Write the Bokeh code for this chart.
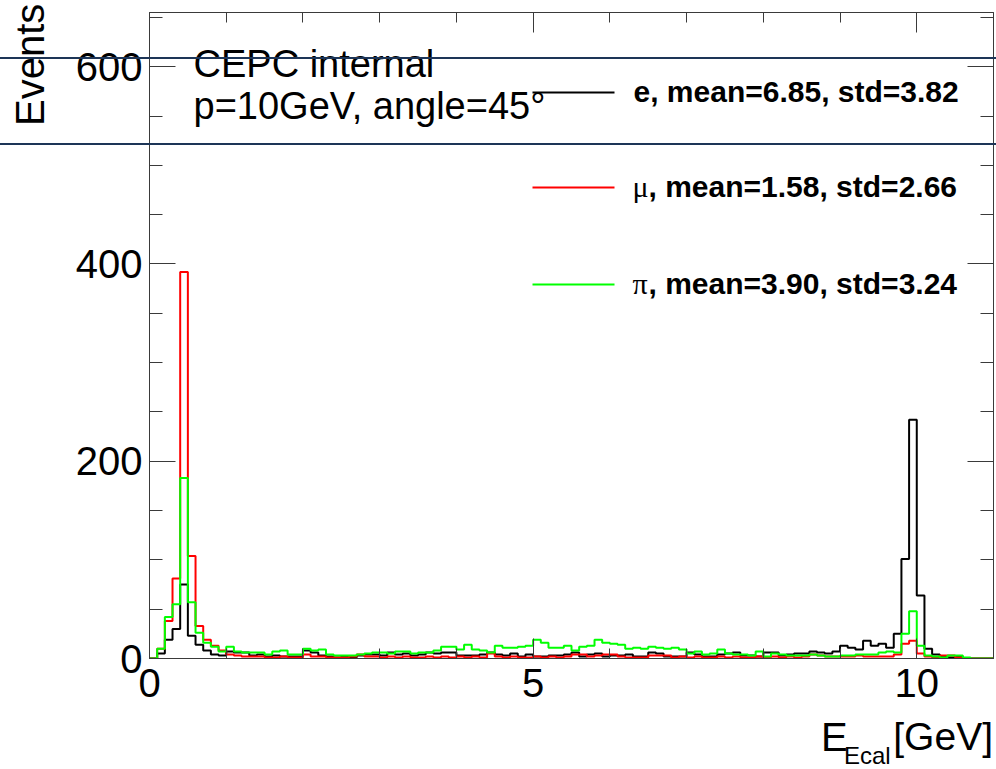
import numpy as np
from bokeh.plotting import figure
from bokeh.models import Range1d, FixedTicker, LinearAxis, Label, Arrow, Div, GridBox
from bokeh.embed import file_html
from bokeh.resources import INLINE

# ---------------- data ----------------
x_min, x_max, bin_width = 0.0, 11.0, 0.1
y_min, y_max = 0, 655

e_counts = [0, 5, 19, 30, 75, 23, 14, 8, 4, 3,
            7, 6, 6, 3, 4, 2, 3, 2, 2, 2,
            8, 6, 3, 2, 1, 2, 1, 3, 4, 4,
            3, 6, 4, 5, 3, 4, 6, 5, 6, 6,
            3, 3, 3, 4, 6, 4, 3, 5, 2, 4,
            2, 2, 3, 3, 4, 6, 2, 4, 5, 2,
            3, 3, 4, 2, 2, 6, 5, 2, 2, 2,
            6, 4, 2, 2, 4, 5, 6, 3, 3, 2,
            6, 6, 3, 4, 5, 5, 7, 6, 5, 7,
            13, 11, 9, 18, 13, 15, 11, 25, 101, 242,
            64, 10, 4, 2, 1, 2, 0, 0, 0, 0]

mu_counts = [0, 10, 38, 81, 392, 104, 33, 19, 13, 8,
             4, 3, 2, 2, 2, 1, 1, 2, 1, 1,
             4, 2, 2, 1, 1, 1, 2, 4, 2, 2,
             1, 2, 1, 2, 1, 1, 2, 1, 2, 1,
             2, 1, 2, 1, 5, 2, 1, 2, 1, 1,
             2, 1, 2, 1, 2, 4, 4, 2, 3, 4,
             4, 2, 1, 1, 1, 3, 3, 3, 1, 2,
             1, 2, 1, 1, 2, 1, 2, 1, 1, 2,
             1, 2, 1, 2, 1, 2, 4, 3, 2, 2,
             2, 2, 3, 2, 2, 2, 2, 4, 15, 18,
             5, 2, 1, 3, 3, 1, 0, 0, 0, 0]

pi_counts = [0, 10, 42, 55, 183, 57, 26, 16, 12, 7,
             12, 7, 6, 6, 6, 4, 7, 8, 4, 4,
             10, 8, 9, 4, 3, 3, 3, 4, 5, 6,
             6, 5, 7, 7, 5, 6, 6, 8, 12, 12,
             9, 14, 9, 8, 6, 13, 11, 11, 12, 13,
             19, 16, 11, 11, 13, 8, 12, 13, 19, 16,
             15, 14, 10, 11, 10, 12, 11, 10, 11, 9,
             5, 7, 4, 5, 9, 5, 4, 4, 3, 7,
             2, 5, 4, 3, 3, 3, 4, 3, 2, 2,
             3, 3, 4, 4, 4, 6, 7, 6, 25, 48,
             13, 3, 2, 1, 3, 3, 1, 0, 0, 0]

series_colors = ["#000000", "#ff0000", "#00ff00"]
legend_symbols = ["", "\u03bc", "\u03c0"]
legend_texts = ["e, mean=6.85, std=3.82", ", mean=1.58, std=2.66", ", mean=3.90, std=3.24"]

x_major_ticks = [0, 5, 10]
x_minor_ticks = [1, 2, 3, 4, 6, 7, 8, 9]
y_major_ticks = [0, 200, 400, 600]
y_minor_ticks = [50, 100, 150, 250, 300, 350, 450, 500, 550, 650]

y_title = "Events"
x_title_main, x_title_sub, x_title_unit = "E", "Ecal", "[GeV]"

# ---------------- layout ----------------
W, H = 996, 769
FL, FR, FT, FB = 149, 993, 12, 658
FONT = "Liberation Sans"
AXC = "#3a3a3a"
NAVY = "#1d3557"


def X(px):       # page x -> frame-relative screen x
    return px - FL


def Y(py):       # page y -> frame-relative screen y (up)
    return FB - py


p = figure(width=W, height=H, output_backend="svg", toolbar_location=None,
           x_range=Range1d(x_min, x_max), y_range=Range1d(y_min, y_max),
           min_border_left=FL, min_border_right=W - FR,
           min_border_top=FT, min_border_bottom=H - FB,
           x_axis_location=None, y_axis_location=None)
p.grid.visible = False
p.outline_line_color = AXC
p.outline_line_width = 1
p.background_fill_color = "white"
p.border_fill_color = "white"


def make_axis(ticks, minor, major_len, minor_len, labels, standoff=10):
    ax = LinearAxis(ticker=FixedTicker(ticks=ticks, minor_ticks=minor))
    ax.major_tick_in = major_len
    ax.major_tick_out = 0
    ax.minor_tick_in = minor_len
    ax.minor_tick_out = 0
    ax.axis_line_color = AXC
    ax.major_tick_line_color = AXC
    ax.minor_tick_line_color = AXC
    ax.major_tick_line_width = 1
    ax.minor_tick_line_width = 1
    ax.major_label_text_font = FONT
    if labels:
        ax.major_label_text_font_size = "40px"
        ax.major_label_text_color = "black"
        ax.major_label_standoff = standoff
    else:
        ax.major_label_text_font_size = "1px"
        ax.major_label_text_alpha = 0
        ax.major_label_standoff = 0
    return ax


p.add_layout(make_axis(x_major_ticks, x_minor_ticks, 20, 10, True, 10), "below")
p.add_layout(make_axis(x_major_ticks, x_minor_ticks, 20, 10, False), "above")
p.add_layout(make_axis(y_major_ticks, y_minor_ticks, 26, 13, True, 7), "left")
p.add_layout(make_axis(y_major_ticks, y_minor_ticks, 26, 13, False), "right")

# ---------------- histograms ----------------
n_bins = len(e_counts)
edges = [x_min + i * bin_width for i in range(n_bins + 1)]
for counts, color in zip([e_counts, mu_counts, pi_counts], series_colors):
    p.step(x=edges, y=list(counts) + [0], mode="after", line_color=color, line_width=2)

# ---------------- texts inside the frame ----------------
p.add_layout(Label(x=X(193), y=Y(84), x_units="screen", y_units="screen", text="CEPC internal",
                   text_font=FONT, text_font_size="38px", text_color="black"))
p.add_layout(Label(x=X(193), y=Y(126), x_units="screen", y_units="screen",
                   text="p=10GeV, angle=45\u00b0",
                   text_font=FONT, text_font_size="38px", text_color="black"))

leg_line_y = [92, 187, 284]
for i, (color, sym, txt) in enumerate(zip(series_colors, legend_symbols, legend_texts)):
    ly = leg_line_y[i]
    p.add_layout(Arrow(x_start=X(532), y_start=Y(ly), x_end=X(614), y_end=Y(ly),
                       start_units="screen", end_units="screen", start=None, end=None,
                       line_color=color, line_width=2))
    if sym:
        p.add_layout(Label(x=X(632), y=Y(ly + 15), x_units="screen", y_units="screen", text=sym,
                           text_font="Liberation Serif", text_font_size="30px", text_color="black"))
        tx = 648
    else:
        tx = 633
    p.add_layout(Label(x=X(tx), y=Y(ly + 15), x_units="screen", y_units="screen", text=txt,
                       text_font=FONT, text_font_style="bold", text_font_size="30px",
                       text_color="black"))

# ---------------- overlay for what lies outside the frame ----------------
font_css = f"font-family:'{FONT}',Arial,sans-serif;color:black;white-space:nowrap;"
overlay_html = f"""
<div style="position:relative;width:{W}px;height:{H}px;overflow:hidden;pointer-events:none;margin:0;padding:0;">
  <div style="position:absolute;left:0;top:57px;width:{W}px;height:2px;background:{NAVY};"></div>
  <div style="position:absolute;left:0;top:143px;width:{W}px;height:2px;background:{NAVY};"></div>
  <div style="position:absolute;left:0;top:0;{font_css}font-size:40px;line-height:40px;
              transform-origin:0 0;transform:translate(10px,126px) rotate(-90deg);">{y_title}</div>
  <div style="position:absolute;left:821px;top:717px;{font_css}font-size:40px;line-height:40px;">{x_title_main}</div>
  <div style="position:absolute;left:844px;top:744px;{font_css}font-size:24px;line-height:24px;">{x_title_sub}</div>
  <div style="position:absolute;right:3px;top:717px;{font_css}font-size:39px;line-height:40px;">{x_title_unit}</div>
</div>
"""
overlay = Div(text=overlay_html, width=W, height=H, margin=0, styles={"pointer-events": "none"})

layout = GridBox(children=[(p, 0, 0), (overlay, 0, 0)])
open("out.html", "w").write(file_html(layout, INLINE))
